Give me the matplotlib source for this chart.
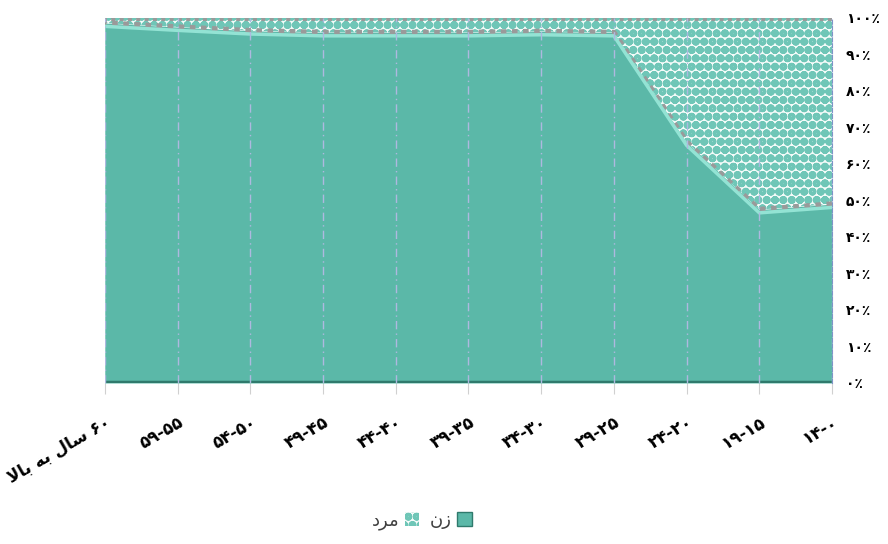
import matplotlib
matplotlib.use("Agg")
import matplotlib.pyplot as plt
import numpy as np

plt.rcParams["font.family"] = ["DejaVu Sans"]
plt.rcParams["hatch.linewidth"] = 3.2

# categories in logical (RTL) order: first category sits at the right edge
# strings are stored in visual order with Arabic presentation forms
categories = ["۱۴-۰", "۱۹-۱۵", "۲۴-۲۰", "۲۹-۲۵", "۳۴-۳۰", "۳۹-۳۵",
              "۴۴-۴۰", "۴۹-۴۵", "۵۴-۵۰", "۵۹-۵۵", "ﻻﺎﺑ ﻪﺑ ﻝﺎﺳ ۶۰"]
female = [49.0, 47.5, 66.0, 96.0, 96.3, 96.0, 96.0, 96.0, 96.5, 97.5, 98.6]
male = [100 - v for v in female]
y_ticks = [0, 10, 20, 30, 40, 50, 60, 70, 80, 90, 100]
y_labels = ["۰٪", "۱۰٪", "۲۰٪", "۳۰٪", "۴۰٪", "۵۰٪", "۶۰٪", "۷۰٪", "۸۰٪", "۹۰٪", "۱۰۰٪"]
legend_female = "ﻥﺯ"
legend_male = "ﺩﺮﻣ"

teal = "#5BB8A8"
x = np.arange(len(categories))
f = np.array(female)
m = np.array(male)

fig = plt.figure(figsize=(8.88, 5.44), dpi=100)
ax = fig.add_axes([0.118, 0.296, 0.819, 0.671])

ax.fill_between(x, 0, f, color=teal, lw=0, zorder=2)
ax.fill_between(x, f, f + m, facecolor="#F4FBF9", edgecolor="#6FC6B7",
                hatch="oo", lw=0, zorder=2)
# bevel-like edges
ax.plot(x, f, color="#9A9A9A", lw=4, ls=(0, (1, 1)), zorder=3)
ax.plot(x, f - 0.9, color="#93E3D4", lw=2.5, zorder=3)
ax.plot(x, f + m - 0.3, color="#9A9A9A", lw=3, ls=(0, (1, 1)), zorder=3)
ax.plot(x, np.zeros_like(f) + 0.3, color="#2F7A6C", lw=2.5, zorder=3)

for xi in x:
    ax.axvline(xi, color="#AEB8E0", lw=1, ls=(0, (6, 3, 1, 3)), zorder=4)

ax.set_xlim(x[-1], x[0])
ax.set_ylim(0, 100)
ax.yaxis.tick_right()
ax.set_yticks(y_ticks)
ax.set_yticklabels(y_labels, fontsize=10, fontweight="bold")
ax.tick_params(axis="y", length=0, pad=10)
ax.set_xticks(x)
ax.set_xticklabels(categories, rotation=30, ha="right", rotation_mode="anchor",
                   fontsize=12, fontweight="bold")
ax.tick_params(axis="x", length=8, color="#D0D0D0", pad=14)
for s in ["top", "left", "bottom"]:
    ax.spines[s].set_visible(False)
ax.spines["right"].set_color("#7F93C8")
ax.spines["right"].set_linestyle("--")

h_m = plt.Rectangle((0, 0), 1, 1, facecolor="#F4FBF9", edgecolor="#6FC6B7", hatch="oo", lw=0)
h_f = plt.Rectangle((0, 0), 1, 1, facecolor=teal, edgecolor="#2F7A6C", lw=1)
fig.legend([h_m, h_f], [legend_male, legend_female], ncol=2, markerfirst=False,
           loc="center", bbox_to_anchor=(0.475, 0.043), frameon=False,
           fontsize=13, handlelength=0.8, handleheight=0.8, columnspacing=0.6,
           handletextpad=0.3, labelcolor="#404040")

fig.savefig("out.png", dpi=100)
